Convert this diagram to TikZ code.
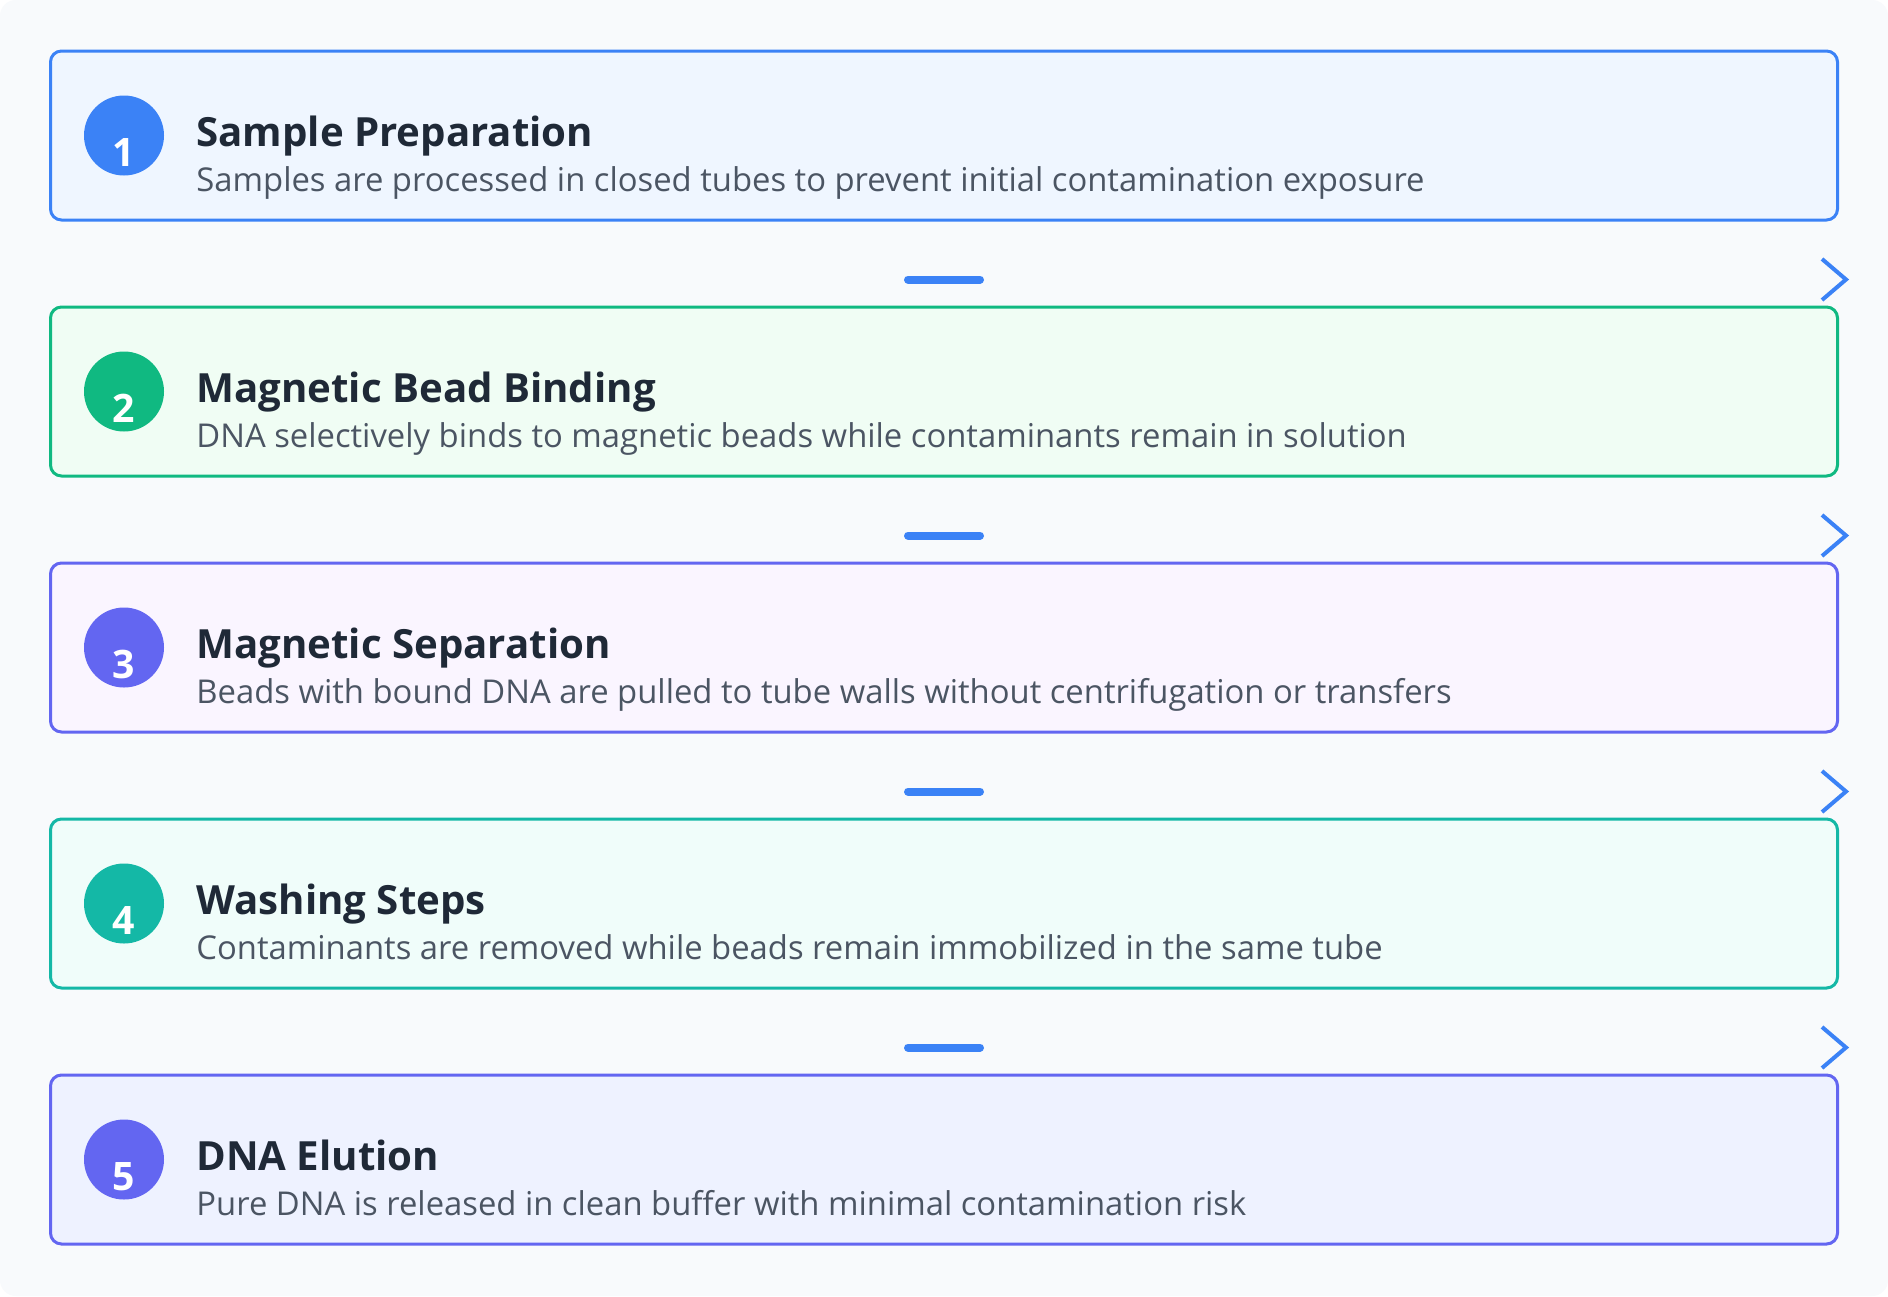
\documentclass[tikz,border=0pt]{standalone}
\usepackage{fontspec}
\setmainfont{Open Sans}
\usetikzlibrary{calc}

\definecolor{bgc}{HTML}{F8FAFC}
\definecolor{cblue}{HTML}{3B82F6}
\definecolor{cgreen}{HTML}{10B981}
\definecolor{cindigo}{HTML}{6366F1}
\definecolor{cteal}{HTML}{14B8A6}
\definecolor{fblue}{HTML}{EFF6FF}
\definecolor{fgreen}{HTML}{F0FDF4}
\definecolor{fpurple}{HTML}{FAF5FF}
\definecolor{fteal}{HTML}{F0FDFA}
\definecolor{findigo}{HTML}{EEF2FF}
\definecolor{ctitle}{HTML}{1F2937}
\definecolor{cdesc}{HTML}{4B5563}

\tikzset{
  stepbox/.style={rectangle, rounded corners=5.5pt, line width=1.5pt,
    minimum width=893.5pt, minimum height=84.5pt, inner sep=0},
  stepdot/.style={circle, minimum size=40pt, inner sep=0},
  stepnum/.style={anchor=base, inner sep=0, text=white,
    font=\fontsize{19.6}{20}\selectfont\bfseries},
  steptitle/.style={anchor=base west, inner sep=0, text=ctitle,
    font=\fontsize{20.1}{24}\selectfont\bfseries},
  stepdesc/.style={anchor=base west, inner sep=0, text=cdesc,
    font=\fontsize{16.4}{20}\selectfont},
  bar/.style={cblue, line width=4pt, line cap=round},
  chev/.style={cblue, line width=2pt}
}

\begin{document}
\begin{tikzpicture}[x=0.5pt,y=-0.5pt]
\useasboundingbox (0,0) rectangle (1888,1296);
\fill[white] (0,0) rectangle (1888,1296);
\fill[bgc, rounded corners=8pt] (0,0) rectangle (1888,1296);

% steps
\node[stepbox, draw=cblue, fill=fblue] (s1) at (944,135.5) {};
\node[stepbox, draw=cgreen, fill=fgreen] (s2) at (944,391.5) {};
\node[stepbox, draw=cindigo, fill=fpurple] (s3) at (944,647.5) {};
\node[stepbox, draw=cteal, fill=fteal] (s4) at (944,903.5) {};
\node[stepbox, draw=cindigo, fill=findigo] (s5) at (944,1159.5) {};

\node[stepdot, fill=cblue] (c1) at (124,135.5) {};
\node[stepdot, fill=cgreen] (c2) at (124,391.5) {};
\node[stepdot, fill=cindigo] (c3) at (124,647.5) {};
\node[stepdot, fill=cteal] (c4) at (124,903.5) {};
\node[stepdot, fill=cindigo] (c5) at (124,1159.5) {};

\node[stepnum] (n1) at (124,166) {1};
\node[stepnum] (n2) at (124,422) {2};
\node[stepnum] (n3) at (124,678) {3};
\node[stepnum] (n4) at (124,934) {4};
\node[stepnum] (n5) at (124,1190) {5};

\node[steptitle] (t1) at (196,146.7) {Sample Preparation};
\node[steptitle] (t2) at (196,402.7) {Magnetic Bead Binding};
\node[steptitle] (t3) at (196,658.7) {Magnetic Separation};
\node[steptitle] (t4) at (196,914.7) {Washing Steps};
\node[steptitle] (t5) at (196,1170.7) {DNA Elution};

\node[stepdesc] (d1) at (196,191.7) {Samples are processed in closed tubes to prevent initial contamination exposure};
\node[stepdesc] (d2) at (196,447.7) {DNA selectively binds to magnetic beads while contaminants remain in solution};
\node[stepdesc] (d3) at (196,703.7) {Beads with bound DNA are pulled to tube walls without centrifugation or transfers};
\node[stepdesc] (d4) at (196,959.7) {Contaminants are removed while beads remain immobilized in the same tube};
\node[stepdesc] (d5) at (196,1215.7) {Pure DNA is released in clean buffer with minimal contamination risk};

% links between steps
\coordinate (g1) at (1846,279.5);
\coordinate (g2) at (1846,535.5);
\coordinate (g3) at (1846,791.5);
\coordinate (g4) at (1846,1047.5);

\draw[bar] (s1.center |- g1) ++(-36,0) -- ++(72,0);
\draw[bar] (s2.center |- g2) ++(-36,0) -- ++(72,0);
\draw[bar] (s3.center |- g3) ++(-36,0) -- ++(72,0);
\draw[bar] (s4.center |- g4) ++(-36,0) -- ++(72,0);

\draw[chev] (g1) ++(-24,-20.5) -- (g1) -- ++(-24,20.5);
\draw[chev] (g2) ++(-24,-20.5) -- (g2) -- ++(-24,20.5);
\draw[chev] (g3) ++(-24,-20.5) -- (g3) -- ++(-24,20.5);
\draw[chev] (g4) ++(-24,-20.5) -- (g4) -- ++(-24,20.5);
\end{tikzpicture}
\end{document}
